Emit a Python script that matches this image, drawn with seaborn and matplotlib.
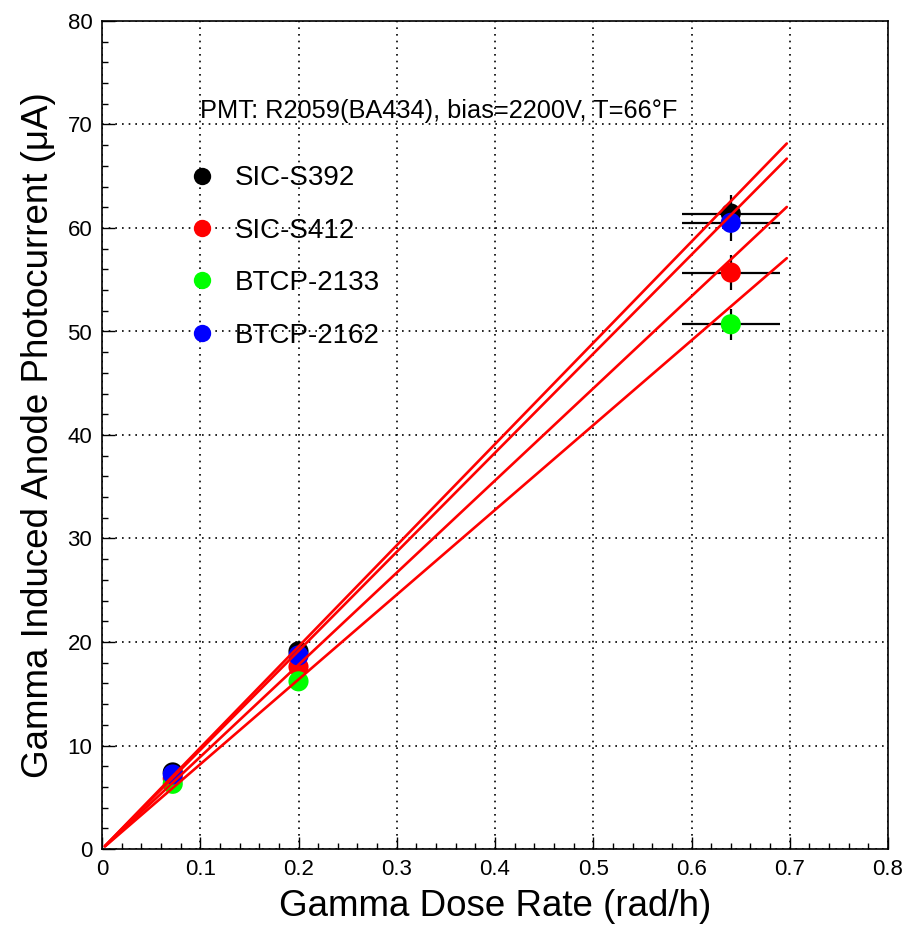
import matplotlib
matplotlib.use("Agg")
import matplotlib.pyplot as plt
from matplotlib.lines import Line2D
from matplotlib.ticker import MultipleLocator
import seaborn as sns
import pandas as pd
import numpy as np

# ---- data ----
samples = ["SIC-S392", "SIC-S412", "BTCP-2133", "BTCP-2162"]
colors = ["#000000", "#ff0000", "#00ff00", "#0000ff"]
dose = [0.072, 0.2, 0.64]
dose_err = [0.0, 0.0, 0.05]
current_s392 = [7.4, 19.1, 61.4]
current_s412 = [6.8, 17.6, 55.7]
current_b2133 = [6.3, 16.2, 50.7]
current_b2162 = [7.2, 18.7, 60.5]
err_s392 = [0.3, 0.6, 1.8]
err_s412 = [0.3, 0.5, 1.7]
err_b2133 = [0.3, 0.5, 1.5]
err_b2162 = [0.3, 0.6, 1.8]
fit_slope = [97.8, 89.0, 81.9, 95.7]
fit_range = [0.003, 0.697]
title_text = "PMT: R2059(BA434), bias=2200V, T=66°F"

currents = [current_s392, current_s412, current_b2133, current_b2162]
errs = [err_s392, err_s412, err_b2133, err_b2162]

sns.set_theme(style="white")
plt.rcParams["font.family"] = ["Liberation Sans", "DejaVu Sans"]
plt.rcParams.update({"text.color": "black", "axes.labelcolor": "black",
                     "xtick.color": "black", "ytick.color": "black",
                     "xtick.labelcolor": "black", "ytick.labelcolor": "black"})

fig = plt.figure(figsize=(9.04, 9.30), dpi=100)
ax = fig.add_axes([102 / 904, 81 / 930, 786 / 904, 828 / 930])

rows = []
for s, cur, er in zip(samples, currents, errs):
    for d, de, c, e in zip(dose, dose_err, cur, er):
        rows.append(dict(sample=s, dose=d, dose_err=de, current=c, err=e))
df = pd.DataFrame(rows)

# error bars
ax.errorbar(df["dose"], df["current"], xerr=df["dose_err"], yerr=df["err"],
            fmt="none", ecolor="black", elinewidth=1.6, capsize=0, zorder=2)

# points
sns.scatterplot(data=df, x="dose", y="current", hue="sample",
                hue_order=samples, palette=colors, s=210, edgecolor="none",
                legend=False, ax=ax, zorder=3)

# fit lines
fit_rows = []
for s, k in zip(samples, fit_slope):
    for x in fit_range:
        fit_rows.append(dict(sample=s, x=x, y=k * x))
fdf = pd.DataFrame(fit_rows)
sns.lineplot(data=fdf, x="x", y="y", units="sample", estimator=None,
             color="#ff0000", linewidth=1.9, legend=False, ax=ax, zorder=4)

ax.set_xlim(0, 0.8)
ax.set_ylim(0, 80)
ax.xaxis.set_major_locator(MultipleLocator(0.1))
ax.xaxis.set_minor_locator(MultipleLocator(0.02))
ax.yaxis.set_major_locator(MultipleLocator(10))
ax.yaxis.set_minor_locator(MultipleLocator(2))
ax.tick_params(which="both", direction="in", top=False, right=False,
               bottom=True, left=True, color="black", width=1.0,
               labelcolor="black")
ax.tick_params(which="major", length=9, labelsize=16, pad=7)
ax.tick_params(which="minor", length=4)
ax.set_xticklabels([f"{v:g}" for v in np.round(ax.get_xticks(), 1)],
                   family=["Liberation Sans Narrow", "Liberation Sans"])
ax.set_yticklabels([f"{int(v)}" for v in ax.get_yticks()],
                   family=["Liberation Sans Narrow", "Liberation Sans"])
ax.grid(True, which="major", color="black", linestyle=(0, (1, 3)), linewidth=1.2)
for sp in ax.spines.values():
    sp.set_color("black")
    sp.set_linewidth(1.2)

ax.set_xlabel("Gamma Dose Rate (rad/h)", fontsize=26.5, labelpad=7, color="black")
ax.set_ylabel("Gamma Induced Anode Photocurrent (μA)", fontsize=26.5, labelpad=8,
              color="black")

ax.text(0.1, 71.3, title_text, fontsize=18.3, ha="left", va="center", color="black")

handles = [Line2D([0], [0], marker="o", color="none", markerfacecolor=c,
                  markeredgecolor="none", markersize=12.5) for c in colors]
leg = ax.legend(handles, samples, loc="upper left", bbox_to_anchor=(0.095, 0.839),
                frameon=False, fontsize=20, handlelength=1.0, handletextpad=0.7,
                labelspacing=0.95, borderaxespad=0, labelcolor="black")

fig.savefig("out.png", dpi=100)
